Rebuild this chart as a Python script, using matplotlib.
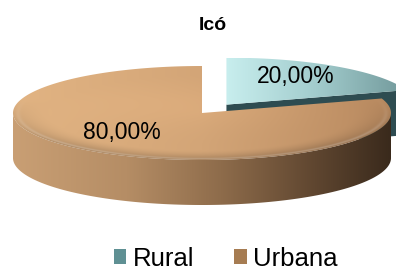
import numpy as np
import matplotlib
matplotlib.use("Agg")
import matplotlib.pyplot as plt
from matplotlib.patches import Polygon, Patch
from matplotlib.colors import LinearSegmentedColormap

# ---- data ----
title = "Icó"
categories = ["Rural", "Urbana"]
values = [20.0, 80.0]
value_labels = ["20,00%", "80,00%"]

# ---- style / layout ----
plt.rcParams['font.family'] = ['Liberation Sans', 'DejaVu Sans']
W, H = 396, 270
cx, cy = 202, 113          # centre of top ellipse (pixels, y down)
a, b = 189, 47             # ellipse radii
depth = 45                 # thickness of the pie
explode = [0.22, 0.0]
start = 90.0
top_colors = [["#c8eeee", "#a2cccd", "#72999b"], ["#e2b483", "#d3a577", "#b98a60"]]
side_colors = ["#c99f74", "#b58d65", "#8e6c4b", "#5f4630", "#3a2a1c"]
face_color = "#2e4c51"
legend_colors = ["#5f9093", "#a67c52"]
label_fac = [(0.62, 0.75), (0.72, 0.5)]

fig = plt.figure(figsize=(W / 100, H / 100), dpi=100)
ax = fig.add_axes([0, 0, 1, 1])


def pt(theta_deg, off=(0, 0), dz=0.0):
    t = np.deg2rad(theta_deg)
    return (cx + off[0] + a * np.cos(t), cy + off[1] - b * np.sin(t) + dz)


def grad_fill(verts, colors, z, stops=None, bevel=None):
    verts = np.asarray(verts)
    patch = Polygon(verts, closed=True, facecolor='none', edgecolor='none', zorder=z)
    ax.add_patch(patch)
    if stops is None:
        cmap = LinearSegmentedColormap.from_list('g', colors)
    else:
        cmap = LinearSegmentedColormap.from_list('g', list(zip(stops, colors)))
    x0, x1 = verts[:, 0].min(), verts[:, 0].max()
    y0, y1 = verts[:, 1].min(), verts[:, 1].max()
    nx = int((x1 - x0) * 2) + 2
    ny = int((y1 - y0) * 2) + 2
    xs = np.linspace(x0, x1, nx)
    ys = np.linspace(y0, y1, ny)
    X, Y = np.meshgrid(xs, ys)
    rgb = cmap((X - x0) / max(x1 - x0, 1e-9))[..., :3]
    if bevel is not None:
        ox, oy = bevel
        rr = np.sqrt(((X - ox) / a) ** 2 + ((Y - oy) / b) ** 2)
        front = np.clip((Y - oy) / b + 0.3, 0, 1)
        t = np.clip((rr - 0.80) / 0.20, 0, 1)
        dark = 1 - 0.22 * (t ** 1.5) * front
        light = 1 + 0.05 * np.clip((0.8 - rr) / 0.8, 0, 1) * (1 - front)
        rgb = np.clip(rgb * (dark * light)[..., None], 0, 1)
        hl = np.exp(-((rr - 0.975) / 0.012) ** 2) * front * 0.25
        rgb = np.clip(rgb + hl[..., None] * (1 - rgb), 0, 1)
    im = ax.imshow(rgb, extent=(x0, x1, y1, y0), aspect='auto',
                   origin='upper', zorder=z, interpolation='bilinear')
    im.set_clip_path(patch)


total = sum(values)
angles = []
ang = start
for v in values:
    sweep = 360.0 * v / total
    angles.append((ang, ang - sweep))
    ang -= sweep

for i, (v, (t0, t1)) in enumerate(zip(values, angles)):
    mid = np.deg2rad((t0 + t1) / 2)
    off = (explode[i] * a * np.cos(mid), -explode[i] * b * np.sin(mid))
    vx, vy = cx + off[0], cy + off[1]
    zb = 2 + i * 3
    if i == 0:
        p = pt(t1, off)
        face = [(vx, vy), p, (p[0], p[1] + depth), (vx, vy + depth)]
        ax.add_patch(Polygon(face, closed=True, facecolor=face_color,
                             edgecolor='none', zorder=zb))
    th = np.linspace(t0, t1, 400)
    thm = np.mod(th, 360)
    vis = th[(thm >= 180) & (thm <= 360)]
    if len(vis) > 1:
        lo, hi = vis.min(), vis.max()
        ts = np.linspace(lo, hi, 300)
        topE = [pt(t, off) for t in ts]
        botE = [pt(t, off, depth) for t in ts[::-1]]
        grad_fill(topE + botE, side_colors, zb + 1,
                  stops=[0, 0.3, 0.55, 0.8, 1.0])
    arc = [pt(t, off) for t in th]
    grad_fill([(vx, vy)] + arc, top_colors[i], zb + 2,
              bevel=(vx, vy) if i == 1 else None)
    fx, fy = label_fac[i]
    lx = vx + fx * a * np.cos(mid)
    ly = vy - fy * b * np.sin(mid)
    ax.text(lx, ly, value_labels[i], ha='center', va='center',
            fontsize=16.5, color='black', zorder=20)

ax.text(213, 25, title, ha='center', va='center', fontsize=14,
        fontweight='bold', zorder=20)

handles = [Patch(facecolor=c, edgecolor='none') for c in legend_colors]
ax.legend(handles, categories, loc='lower center', bbox_to_anchor=(0.57, -0.06),
          ncol=2, frameon=False, fontsize=18.5, handlelength=0.5,
          handleheight=0.5, handletextpad=0.25, columnspacing=1.55,
          borderaxespad=0.2)

ax.set_xlim(0, W)
ax.set_ylim(H, 0)
ax.axis('off')
fig.savefig("out.png", dpi=100)
